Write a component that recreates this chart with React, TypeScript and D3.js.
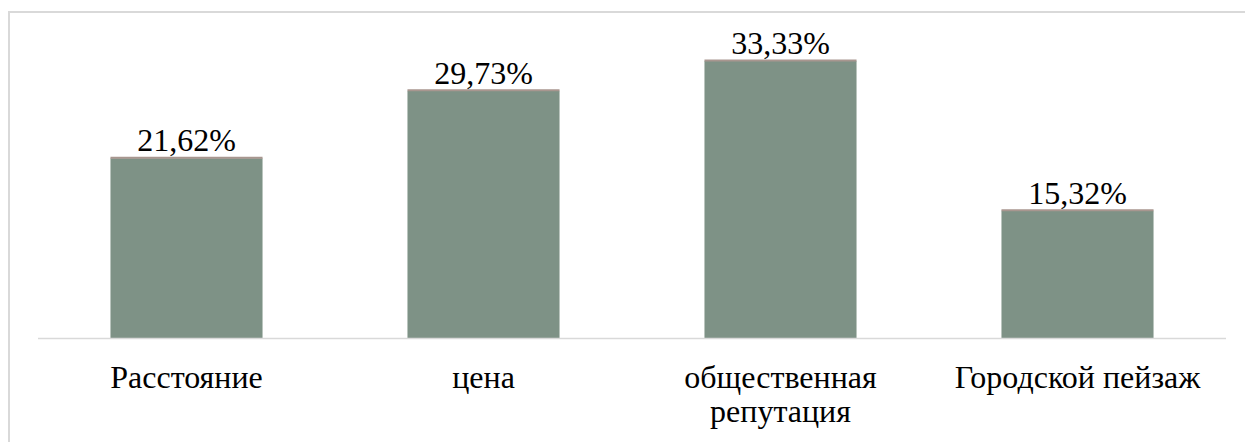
import { useEffect, useRef } from 'react';
import * as d3 from 'd3';

// categories (multi-line labels split with \n)
const CATEGORIES = ['Расстояние', 'цена', 'общественная\nрепутация', 'Городской пейзаж'];
const VALUES = [21.62, 29.73, 33.33, 15.32];
const VALUE_LABELS = ['21,62%', '29,73%', '33,33%', '15,32%'];

const WIDTH = 1245;
const HEIGHT = 442;
const FONT = "'Liberation Serif', 'Times New Roman', serif";

export default function App() {
  const svgRef = useRef<SVGSVGElement | null>(null);

  useEffect(() => {
    if (!svgRef.current) return;
    const svg = d3.select(svgRef.current);
    svg.selectAll('*').remove();

    const plot = { left: 38, right: 1226, top: 47, bottom: 338 };

    // chart frame (right/bottom sides fall outside the picture)
    svg.append('rect')
      .attr('x', 9)
      .attr('y', 12)
      .attr('width', WIDTH + 20)
      .attr('height', HEIGHT + 20)
      .attr('fill', '#fff')
      .attr('stroke', '#d9d9d9')
      .attr('stroke-width', 2);

    const x = d3.scaleBand()
      .domain(CATEGORIES)
      .range([plot.left, plot.right])
      .paddingInner(0.488)
      .paddingOuter(0.244);

    const y = d3.scaleLinear()
      .domain([0, 35])
      .range([plot.bottom, plot.top]);

    const g = svg.append('g').style('font-family', FONT);

    // bars
    g.selectAll('rect.bar')
      .data(VALUES)
      .join('rect')
      .attr('class', 'bar')
      .attr('x', (_, i) => x(CATEGORIES[i])!)
      .attr('y', (d) => y(d))
      .attr('width', x.bandwidth())
      .attr('height', (d) => plot.bottom - y(d))
      .attr('fill', '#7e9286');

    // thin cap line on top of each bar
    g.selectAll('line.cap')
      .data(VALUES)
      .join('line')
      .attr('class', 'cap')
      .attr('x1', (_, i) => x(CATEGORIES[i])!)
      .attr('x2', (_, i) => x(CATEGORIES[i])! + x.bandwidth())
      .attr('y1', (d) => y(d) - 0.5)
      .attr('y2', (d) => y(d) - 0.5)
      .attr('stroke', '#a8968f')
      .attr('stroke-width', 2);

    // baseline
    g.append('line')
      .attr('x1', plot.left)
      .attr('x2', plot.right)
      .attr('y1', plot.bottom + 0.5)
      .attr('y2', plot.bottom + 0.5)
      .attr('stroke', '#d9d9d9')
      .attr('stroke-width', 1.5);

    // value labels
    g.selectAll('text.value')
      .data(VALUES)
      .join('text')
      .attr('class', 'value')
      .attr('x', (_, i) => x(CATEGORIES[i])! + x.bandwidth() / 2)
      .attr('y', (d) => y(d) - 7)
      .attr('text-anchor', 'middle')
      .style('font-family', FONT)
      .style('font-size', '32px')
      .attr('fill', '#000')
      .text((_, i) => VALUE_LABELS[i]);

    // category labels
    CATEGORIES.forEach((cat) => {
      const t = g.append('text')
        .attr('x', x(cat)! + x.bandwidth() / 2)
        .attr('y', 388)
        .attr('text-anchor', 'middle')
        .style('font-family', FONT)
        .style('font-size', '32px')
        .attr('fill', '#000');
      cat.split('\n').forEach((line, j) => {
        t.append('tspan')
          .attr('x', x(cat)! + x.bandwidth() / 2)
          .attr('dy', j === 0 ? 0 : 34)
          .text(line);
      });
    });
  }, []);

  return (
    <div style={{ position: 'fixed', left: 0, top: 0, width: WIDTH, height: HEIGHT, background: '#fff' }}>
      <svg ref={svgRef} width={WIDTH} height={HEIGHT} style={{ display: 'block', fontFamily: FONT }} />
    </div>
  );
}
